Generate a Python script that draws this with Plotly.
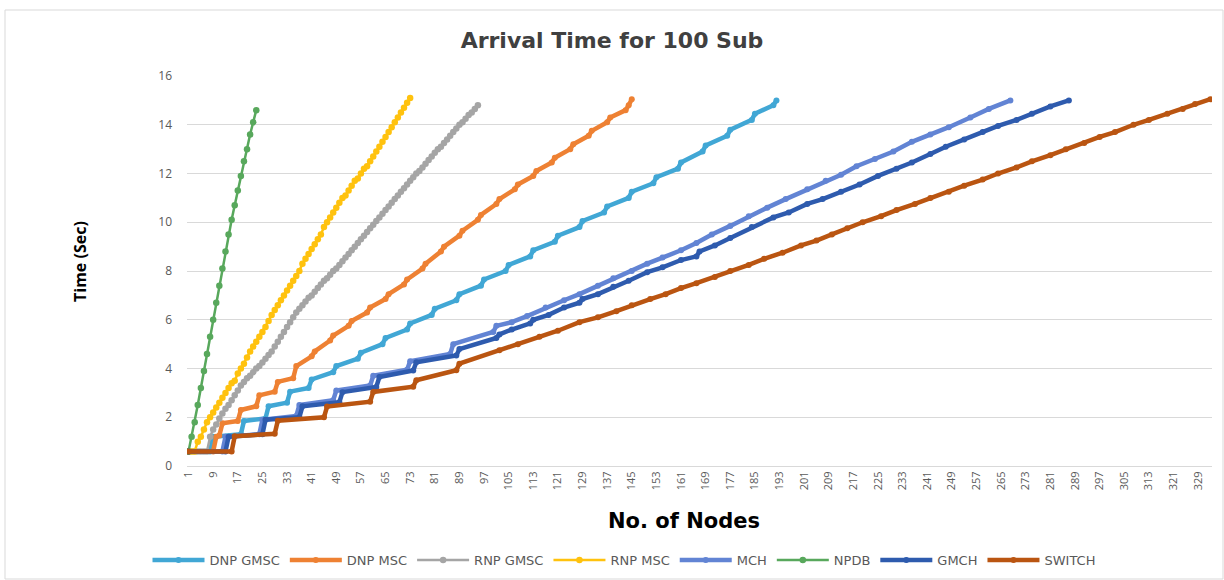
import plotly.graph_objects as go

# ---------------- data ----------------
X_TICKS = [1, 9, 17, 25, 33, 41, 49, 57, 65, 73, 81, 89, 97, 105, 113, 121, 129, 137,
           145, 153, 161, 169, 177, 185, 193, 201, 209, 217, 225, 233, 241, 249, 257,
           265, 273, 281, 289, 297, 305, 313, 321, 329]

NPDB_x = list(range(1, 24))
NPDB_y = [0.6, 1.2, 1.8, 2.5, 3.2, 3.9, 4.6, 5.3, 6.0, 6.7, 7.4, 8.1, 8.8, 9.5, 10.1,
          10.7, 11.3, 11.9, 12.5, 13.0, 13.6, 14.1, 14.6]

RNP_MSC_x = list(range(1, 74))
RNP_MSC_y = [0.6, 0.6, 0.6, 1.0, 1.2, 1.5, 1.8, 2.0, 2.2, 2.4, 2.6, 2.8, 3.0, 3.2, 3.4,
             3.5, 3.8, 4.0, 4.2, 4.45, 4.7, 4.9, 5.1, 5.3, 5.5, 5.7, 5.95, 6.2, 6.4, 6.6,
             6.8, 7.0, 7.2, 7.4, 7.6, 7.8, 8.0, 8.3, 8.5, 8.7, 8.9, 9.1, 9.3, 9.5, 9.8,
             10.0, 10.2, 10.4, 10.6, 10.8, 11.0, 11.1, 11.3, 11.5, 11.7, 11.8, 12.0, 12.2,
             12.3, 12.5, 12.7, 12.9, 13.1, 13.3, 13.5, 13.7, 13.9, 14.1, 14.3, 14.5, 14.7,
             14.9, 15.1]

RNP_GMSC_x = list(range(1, 96))
RNP_GMSC_y = [0.6, 0.6, 0.6, 0.6, 0.6, 0.6, 0.6, 1.2, 1.5, 1.7, 1.95, 2.15, 2.35, 2.5,
              2.7, 2.9, 3.1, 3.3, 3.45, 3.6, 3.7, 3.85, 4.0, 4.1, 4.25, 4.4, 4.55, 4.7,
              4.9, 5.1, 5.3, 5.5, 5.7, 5.9, 6.1, 6.3, 6.45, 6.6, 6.75, 6.9, 7.0, 7.15,
              7.3, 7.45, 7.6, 7.7, 7.85, 8.0, 8.1, 8.25, 8.4, 8.55, 8.7, 8.85, 9.0, 9.15,
              9.3, 9.45, 9.6, 9.75, 9.9, 10.05, 10.2, 10.35, 10.5, 10.65, 10.8, 10.95,
              11.1, 11.25, 11.4, 11.55, 11.7, 11.85, 12.0, 12.1, 12.25, 12.4, 12.55, 12.7,
              12.85, 13.0, 13.1, 13.25, 13.4, 13.55, 13.7, 13.85, 14.0, 14.1, 14.25, 14.4,
              14.5, 14.65, 14.8]

DNP_MSC_x = [1, 9, 10, 11, 12, 17, 18, 23, 24, 29, 30, 35, 36, 41, 42, 47, 48, 53, 54,
             59, 60, 65, 66, 71, 72, 77, 78, 83, 84, 89, 90, 95, 96, 101, 102, 107, 108,
             113, 114, 119, 120, 125, 126, 131, 132, 137, 138, 143, 144, 145]
DNP_MSC_y = [0.6, 0.6, 1.2, 1.25, 1.75, 1.85, 2.3, 2.45, 2.9, 3.05, 3.45, 3.6, 4.1, 4.5,
             4.7, 5.15, 5.35, 5.75, 5.95, 6.3, 6.5, 6.85, 7.05, 7.45, 7.65, 8.1, 8.3, 8.8,
             9.0, 9.45, 9.65, 10.1, 10.3, 10.75, 10.95, 11.35, 11.55, 11.9, 12.1, 12.45,
             12.65, 13.0, 13.2, 13.55, 13.75, 14.1, 14.3, 14.6, 14.8, 15.05]

DNP_GMSC_x = [1, 8, 9, 18, 19, 26, 27, 33, 34, 40, 41, 48, 49, 56, 57, 64, 65, 72, 73,
              80, 81, 88, 89, 96, 97, 104, 105, 112, 113, 120, 121, 128, 129, 136, 137,
              144, 145, 152, 153, 160, 161, 168, 169, 176, 177, 184, 185, 191, 192]
DNP_GMSC_y = [0.6, 0.6, 1.2, 1.3, 1.85, 1.95, 2.45, 2.6, 3.05, 3.2, 3.55, 3.85, 4.1, 4.4,
              4.65, 5.0, 5.25, 5.6, 5.85, 6.2, 6.45, 6.8, 7.05, 7.4, 7.65, 8.0, 8.25, 8.6,
              8.85, 9.2, 9.45, 9.8, 10.05, 10.4, 10.65, 11.0, 11.25, 11.6, 11.85, 12.2,
              12.45, 12.9, 13.15, 13.55, 13.8, 14.2, 14.45, 14.8, 15.0]

MCH_x = [1, 12, 13, 24, 25, 36, 37, 48, 49, 60, 61, 72, 73, 86, 87, 100, 101, 106, 111,
         117, 123, 128, 134, 139, 145, 150, 155, 161, 166, 171, 177, 183, 189, 195, 202,
         208, 213, 218, 224, 230, 236, 242, 248, 255, 261, 268]
MCH_y = [0.6, 0.6, 1.2, 1.3, 1.9, 2.05, 2.5, 2.7, 3.1, 3.3, 3.7, 3.95, 4.3, 4.6, 5.0, 5.5,
         5.75, 5.9, 6.15, 6.5, 6.8, 7.05, 7.4, 7.7, 8.0, 8.3, 8.55, 8.85, 9.15, 9.5, 9.85,
         10.25, 10.6, 10.95, 11.35, 11.7, 11.95, 12.3, 12.6, 12.9, 13.3, 13.6, 13.9, 14.3,
         14.65, 15.0]

GMCH_x = [1, 13, 14, 25, 26, 37, 38, 50, 51, 62, 63, 74, 75, 88, 89, 101, 102, 106, 112,
          113, 118, 123, 128, 129, 134, 139, 144, 150, 155, 161, 166, 167, 172, 177, 184,
          191, 196, 202, 207, 213, 219, 225, 231, 236, 242, 247, 253, 259, 264, 270, 275,
          281, 287]
GMCH_y = [0.6, 0.6, 1.2, 1.3, 1.9, 2.0, 2.45, 2.62, 3.03, 3.24, 3.65, 3.92, 4.26, 4.53,
          4.8, 5.25, 5.4, 5.6, 5.85, 6.0, 6.2, 6.5, 6.7, 6.85, 7.05, 7.35, 7.6, 7.95, 8.15,
          8.45, 8.6, 8.8, 9.05, 9.35, 9.8, 10.2, 10.4, 10.75, 10.95, 11.25, 11.55, 11.9,
          12.2, 12.45, 12.8, 13.1, 13.4, 13.7, 13.95, 14.2, 14.45, 14.75, 15.0]

SWITCH_x = [1, 15, 16, 29, 30, 45, 46, 60, 61, 74, 75, 88, 89, 102, 108, 115, 121, 128,
            134, 140, 145, 151, 156, 161, 166, 172, 177, 183, 188, 194, 200, 205, 210,
            215, 220, 226, 231, 237, 242, 248, 253, 259, 264, 270, 275, 281, 286, 292,
            297, 302, 308, 313, 319, 324, 328, 333]
SWITCH_y = [0.6, 0.6, 1.22, 1.32, 1.86, 2.0, 2.44, 2.64, 3.04, 3.25, 3.52, 3.93, 4.2, 4.75,
            5.0, 5.3, 5.55, 5.9, 6.1, 6.35, 6.6, 6.85, 7.05, 7.3, 7.5, 7.75, 8.0, 8.25,
            8.5, 8.75, 9.05, 9.25, 9.5, 9.75, 10.0, 10.25, 10.5, 10.75, 11.0, 11.25, 11.5,
            11.75, 12.0, 12.25, 12.5, 12.75, 13.0, 13.25, 13.5, 13.7, 14.0, 14.2, 14.45,
            14.65, 14.85, 15.05]

# name, x, y, colour, dense (marker at every node)
SERIES = [
    ("DNP GMSC", DNP_GMSC_x, DNP_GMSC_y, "#41A7D5", False),
    ("DNP MSC", DNP_MSC_x, DNP_MSC_y, "#EE8133", False),
    ("RNP GMSC", RNP_GMSC_x, RNP_GMSC_y, "#A5A5A5", True),
    ("RNP MSC", RNP_MSC_x, RNP_MSC_y, "#FFC20E", True),
    ("MCH", MCH_x, MCH_y, "#6284D4", False),
    ("NPDB", NPDB_x, NPDB_y, "#58A85C", True),
    ("GMCH", GMCH_x, GMCH_y, "#2E5BAE", False),
    ("SWITCH", SWITCH_x, SWITCH_y, "#BA5511", False),
]

FONT = "Open Sans"
WIDE = "DejaVu Sans"

# plot-area geometry in pixels
L, R, T, B = 187, 12, 76, 114
PW, PH = 1224 - L - R, 580 - T - B


def px_x(p):
    return (p - L) / PW


def px_y(p):
    return (580 - B - p) / PH


fig = go.Figure()
for name, xs, ys, color, dense in SERIES:
    fig.add_trace(go.Scatter(
        x=xs, y=ys, name=name, mode="lines+markers",
        line=dict(color=color, width=2.5 if dense else 4.5),
        marker=dict(symbol="circle", size=6.5 if dense else 6, color=color),
    ))

fig.update_layout(
    width=1224, height=580,
    margin=dict(l=L, r=R, t=T, b=B, autoexpand=False),
    paper_bgcolor="white", plot_bgcolor="white",
    font=dict(family=FONT, color="#595959"),
    title=dict(text="<b>Arrival Time for 100 Sub</b>", x=px_x(612), xref="paper",
               xanchor="center", y=1 - 40 / 580, yref="container", yanchor="middle",
               font=dict(family=WIDE, size=22, color="#404040")),
    showlegend=True,
    legend=dict(orientation="h", x=px_x(624), xanchor="center", y=px_y(560),
                yanchor="middle", itemwidth=52,
                font=dict(family=WIDE, size=13, color="#595959"),
                bgcolor="rgba(0,0,0,0)"),
    xaxis=dict(range=[0.5, 333.5], tickmode="array", tickvals=X_TICKS,
               ticktext=[str(v) for v in X_TICKS], tickangle=-90,
               showgrid=False, zeroline=False, showline=True, linecolor="#D9D9D9",
               ticks="", automargin=False,
               tickfont=dict(family=FONT, size=11, color="#595959")),
    yaxis=dict(range=[0, 16], dtick=2, tick0=0, showgrid=True, gridcolor="#D9D9D9",
               gridwidth=1, zeroline=False, showline=False, ticks="",
               ticklabelstandoff=14, automargin=False,
               tickfont=dict(family=FONT, size=12, color="#595959")),
    annotations=[
        dict(text="<b>Time (Sec)</b>", xref="paper", yref="paper",
             x=px_x(80), y=px_y(262), textangle=-90, showarrow=False,
             xanchor="center", yanchor="middle",
             font=dict(family=FONT, size=16, color="#000000")),
        dict(text="<b>No. of Nodes</b>", xref="paper", yref="paper",
             x=px_x(684), y=px_y(521), showarrow=False,
             xanchor="center", yanchor="middle",
             font=dict(family=WIDE, size=21, color="#000000")),
    ],
    shapes=[
        dict(type="rect", xref="paper", yref="paper",
             x0=px_x(5), x1=px_x(1223), y0=px_y(579), y1=px_y(10),
             line=dict(color="#D9D9D9", width=1), fillcolor="rgba(0,0,0,0)",
             layer="below"),
    ],
)

fig.write_html("out.html", config={"displayModeBar": False},
               post_script="document.body.style.margin='0';"
                           "document.body.style.overflow='hidden';")
